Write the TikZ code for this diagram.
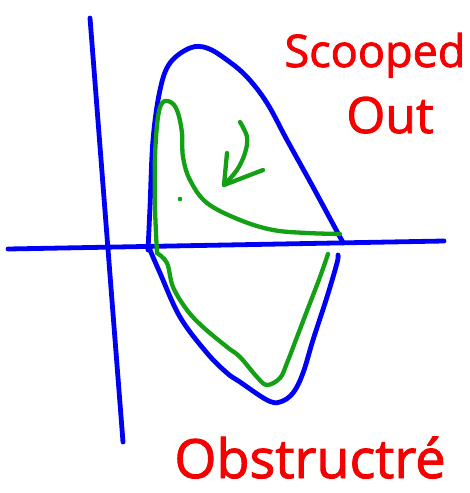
\documentclass[tikz,border=0pt]{standalone}
\usepackage{fontspec}
\setmainfont{Open Sans}
\newfontfamily\handfont[FakeBold=1.8]{Open Sans}
\definecolor{pblue}{RGB}{0,0,245}
\definecolor{pgreen}{RGB}{20,160,20}
\definecolor{pred}{RGB}{245,0,0}
\begin{document}
\begin{tikzpicture}[x=1pt,y=-1pt,
  bluepen/.style={draw=pblue,line width=4.8pt,line cap=round,line join=round},
  greenpen/.style={draw=pgreen,line width=4.3pt,line cap=round,line join=round},
  redtext/.style={text=pred,inner sep=0pt}]
\useasboundingbox (0,0) rectangle (469,493);
% axes
\coordinate (vt) at (90,18);
\coordinate (vb) at (123,442);
\coordinate (hl) at (8,249);
\coordinate (hr) at (444,241);
\draw[bluepen] (vt) -- (vb);
\draw[bluepen] (hl) -- (hr);
% blue upper lobe
\draw[bluepen] plot[smooth,tension=0.6] coordinates {(148,250) (150,207) (153,140) (160,90) (170,63) (190,48) (207,48) (227,60) (247,77) (267,103) (287,140) (313,187) (340,237) (343,242)};
% blue lower lobe
\draw[bluepen] plot[smooth,tension=0.6] coordinates {(150,250) (160,273) (180,317) (207,353) (227,373) (240,382) (267,400) (280,402) (293,393) (303,373) (313,340) (327,297) (337,263) (338,255)};
% green upper
\draw[greenpen] plot[smooth,tension=0.6] coordinates {(157,253) (155,207) (155,157) (158,117) (163,102) (172,103) (178,113) (182,133) (183,157) (190,180) (207,203) (240,220) (273,230) (307,233) (340,234)};
% green lower
\draw[greenpen] plot[smooth,tension=0.6] coordinates {(157,253) (167,263) (173,287) (187,310) (203,327) (227,347) (240,357) (257,377) (267,385) (280,378) (287,363) (297,337) (310,303) (320,277) (328,254)};
% green arrow
\coordinate (atip) at (224,185);
\draw[greenpen] plot[smooth,tension=0.6] coordinates {(240,122) (247,137) (245,153) (237,170) (224,185)};
\draw[greenpen] (227,153) -- (atip) -- (263,170);
\fill[pgreen] (180,199) circle (2.3pt);
% labels
\node[redtext,anchor=base,font=\handfont\fontsize{45}{48}\selectfont] (t1) at (375,67) {Scooped};
\node[redtext,anchor=base,font=\handfont\fontsize{50}{52}\selectfont] (t2) at (390,133) {Out};
\node[redtext,anchor=base,font=\handfont\fontsize{54}{56}\selectfont] (t3) at (310,478) {Obstructré};
\end{tikzpicture}
\end{document}
